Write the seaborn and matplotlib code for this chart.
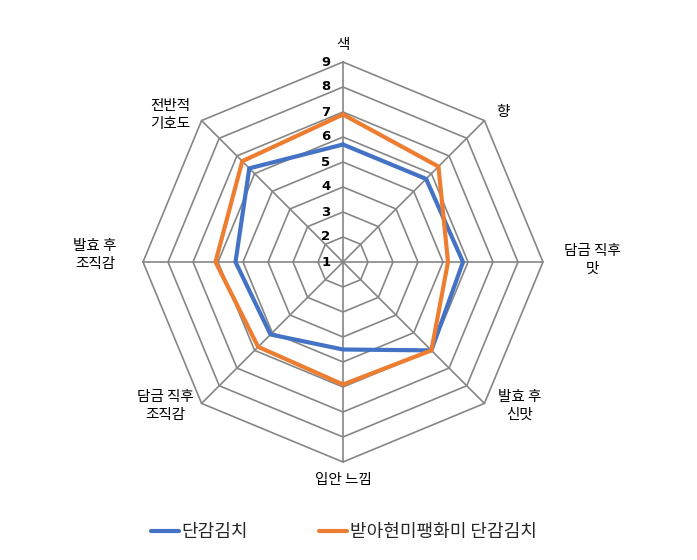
import numpy as np
import pandas as pd
import matplotlib
matplotlib.use("Agg")
import matplotlib.pyplot as plt
import seaborn as sns

# ---- data ----
categories = ["색", "향", "담금 직후\n맛", "발효 후\n신맛", "입안 느낌",
              "담금 직후\n조직감", "발효 후\n조직감", "전반적\n기호도"]
series_names = ["단감김치", "받아현미팽화미 단감김치"]
values_plain = [5.7, 5.7, 5.8, 6.0, 4.5, 5.1, 5.3, 6.3]
values_rice = [6.9, 6.4, 5.2, 6.0, 5.9, 5.8, 6.1, 6.7]
tick_labels = ["1", "2", "3", "4", "5", "6", "7", "8", "9"]
colors = ["#4472C4", "#ED7D31"]

sns.set_theme(style="white")
plt.rcParams["font.family"] = ["Noto Sans CJK KR", "DejaVu Sans"]

r_min, r_max = 1, 9
n = len(categories)
angles = np.deg2rad(90 - 45 * np.arange(n))

def to_xy(v, a):
    r = v - r_min
    return r * np.cos(a), r * np.sin(a)

fig = plt.figure(figsize=(6.97, 5.60), dpi=100)
ax = fig.add_axes([0, 0, 1, 1])
ax.set_xlim(-343 / 25, (697 - 343) / 25)
ax.set_ylim(-298 / 25, 262 / 25)
ax.axis("off")

grid_c = "#868686"
# rings
loop = np.append(angles, angles[0])
for lvl in range(2, 10):
    xs, ys = to_xy(np.full(n + 1, lvl), loop)
    ax.plot(xs, ys, color=grid_c, lw=1.2, zorder=1)
# spokes
for a in angles:
    xs, ys = to_xy(np.array([r_min, r_max]), np.array([a, a]))
    ax.plot(xs, ys, color=grid_c, lw=1.2, zorder=1)

# data frame for series
rows = []
for name, vals in zip(series_names, [values_plain, values_rice]):
    vv = list(vals) + [vals[0]]
    for k, (v, a) in enumerate(zip(vv, loop)):
        x, y = to_xy(v, a)
        rows.append({"series": name, "order": k, "x": x, "y": y})
df = pd.DataFrame(rows)

sns.lineplot(data=df, x="x", y="y", hue="series", sort=False, estimator=None,
             palette=colors, linewidth=3, ax=ax, zorder=3,
             hue_order=series_names)

# tick labels
for i, t in enumerate(tick_labels):
    lvl = int(t)
    ax.text(-0.68, lvl - r_min, t, ha="center", va="center",
            fontsize=9.5, fontweight="bold", color="#000000",
            family=["DejaVu Sans"], zorder=4)

# category labels (positions in px from top-left -> data)
label_px = [(343, 45), (503, 112), (592, 260), (520, 406), (343, 480),
            (165, 406), (95, 255), (170, 115)]
for lab, (px, py) in zip(categories, label_px):
    ax.text((px - 343) / 25, (262 - py) / 25, lab, ha="center", va="center",
            fontsize=10.5, color="#000000", linespacing=1.3)

leg = ax.legend(loc="center", bbox_to_anchor=((343.5) / 697, 28 / 560),
                ncol=2, frameon=False, fontsize=13, handlelength=1.6,
                handletextpad=0.12, columnspacing=3.9,
                bbox_transform=fig.transFigure)
for line in leg.get_lines():
    line.set_linewidth(3)

fig.savefig("out.png", dpi=100)
